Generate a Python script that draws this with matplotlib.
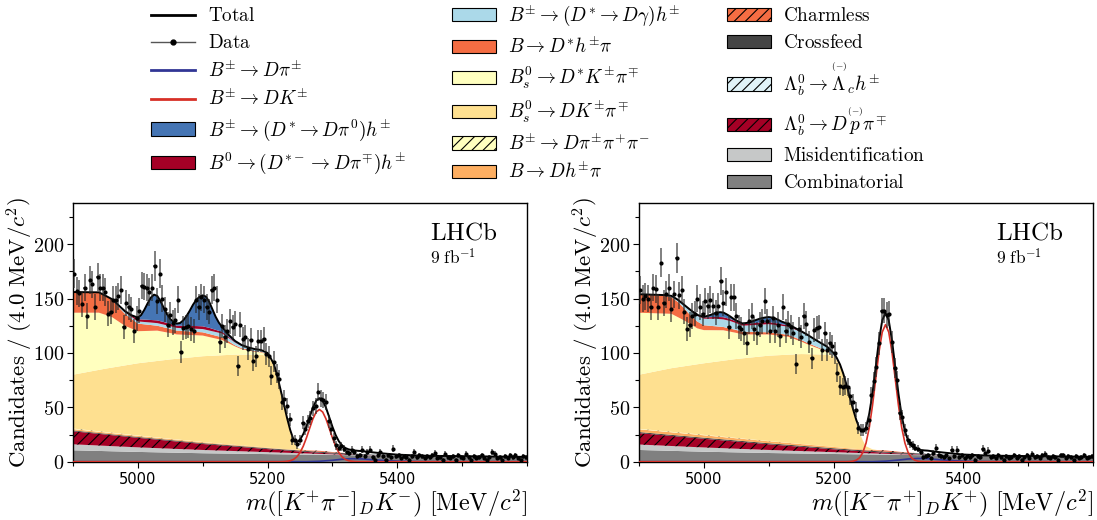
import numpy as np
import matplotlib
matplotlib.use("Agg")
import matplotlib.pyplot as plt
from matplotlib.patches import Patch
from matplotlib.lines import Line2D
from matplotlib.ticker import MultipleLocator, FixedLocator, FuncFormatter

plt.rcParams['mathtext.fontset'] = 'cm'
plt.rcParams['hatch.linewidth'] = 0.8

# ---------------- data (candidates per 4 MeV bin) ----------------
mass_centres = np.arange(4902, 5600, 4)

data_left = [
    173, 157, 155, 145, 160, 134, 167, 163, 142, 170,
    160, 160, 156, 136, 138, 149, 149, 152, 158, 124,
    146, 142, 140, 120, 132, 139, 162, 161, 160, 156,
    160, 180, 148, 173, 150, 140, 126, 135, 128, 130,
    149, 101, 123, 124, 125, 122, 120, 149, 142, 151,
    149, 142, 138, 158, 160, 149, 110, 125, 115, 120,
    129, 124, 127, 88, 126, 113, 115, 104, 112, 93,
    97, 111, 111, 113, 99, 97, 79, 92, 81, 76,
    55, 58, 51, 39, 20, 20, 16, 20, 36, 30,
    37, 40, 49, 51, 64, 58, 57, 55, 37, 30,
    22, 15, 13, 14, 12, 9, 8, 11, 9, 5,
    6, 11, 5, 9, 11, 4, 2, 6, 9, 5,
    2, 6, 4, 12, 5, 6, 3, 5, 4, 2,
    5, 9, 4, 6, 5, 3, 5, 4, 6, 8,
    3, 4, 2, 7, 4, 3, 5, 2, 6, 4,
    3, 7, 4, 2, 5, 3, 4, 6, 3, 2,
    4, 9, 7, 3, 4, 2, 5, 3, 6, 4,
    6, 3, 2, 5, 4]

data_right = [
    158, 150, 152, 150, 142, 160, 159, 142, 183, 146,
    154, 160, 140, 154, 187, 153, 158, 138, 122, 126,
    134, 136, 150, 142, 136, 148, 143, 149, 143, 137,
    143, 166, 146, 156, 124, 151, 151, 134, 124, 122,
    118, 109, 129, 134, 122, 118, 126, 129, 148, 129,
    120, 132, 120, 126, 116, 142, 120, 127, 124, 118,
    90, 122, 115, 134, 127, 110, 95, 121, 123, 124,
    103, 118, 103, 109, 106, 100, 82, 70, 69, 70,
    69, 60, 55, 48, 31, 29, 29, 31, 38, 61,
    74, 87, 109, 139, 139, 135, 136, 110, 86, 75,
    45, 41, 29, 20, 17, 15, 13, 12, 9, 4,
    5, 6, 3, 8, 13, 6, 5, 4, 6, 3,
    11, 5, 11, 4, 6, 3, 5, 4, 6, 2,
    5, 4, 12, 8, 10, 4, 5, 3, 6, 4,
    2, 5, 3, 4, 6, 3, 5, 2, 4, 6,
    3, 7, 4, 5, 3, 6, 7, 4, 3, 5,
    4, 2, 6, 6, 3, 5, 4, 2, 5, 3,
    4, 6, 3, 4, 5]

# ---------------- fit components (knots: mass, height per bin) ----------------
comb_m = [4900, 5000, 5100, 5200, 5300, 5400, 5500, 5600]
comb_left = [10.5, 9.0, 7.8, 7.0, 6.2, 5.4, 4.8, 4.2]
comb_right = [10.8, 9.2, 8.0, 7.1, 6.3, 5.5, 4.9, 4.3]

misid_m = [4900, 5000, 5100, 5200, 5250, 5300, 5350, 5400]
misid_left = [5.5, 4.2, 3.0, 1.8, 1.2, 0.6, 0.2, 0.0]
misid_right = [5.0, 3.9, 2.8, 1.7, 1.1, 0.6, 0.2, 0.0]

lbdp_m = [4900, 5000, 5100, 5200, 5250, 5300, 5350, 5400]
lbdp_left = [12.0, 8.8, 5.5, 2.8, 1.6, 0.7, 0.2, 0.0]
lbdp_right = [10.5, 8.0, 5.2, 2.6, 1.5, 0.7, 0.2, 0.0]

cross_m = [4900, 5100, 5200, 5300, 5350, 5400, 5450]
cross_left = [0.8, 0.8, 0.8, 0.9, 0.7, 0.3, 0.0]
cross_right = [1.0, 1.0, 1.0, 1.0, 0.8, 0.3, 0.0]

charm_m = [5230, 5260, 5280, 5300, 5330]
charm_left = [0.0, 0.5, 0.9, 0.5, 0.0]
charm_right = [0.0, 0.6, 1.1, 0.6, 0.0]

lblc_m = [5300, 5400, 5500, 5600]
lblc_left = [0.0, 0.3, 0.3, 0.2]
lblc_right = [0.0, 0.3, 0.3, 0.2]

dhpi_m = [4900, 5000, 5100, 5200, 5250, 5270]
dhpi_left = [1.2, 1.0, 0.8, 0.5, 0.2, 0.0]
dhpi_right = [2.5, 2.2, 1.8, 1.2, 0.5, 0.0]

d3pi_m = [4900, 5000, 5100, 5200]
d3pi_left = [0.5, 0.4, 0.2, 0.0]
d3pi_right = [0.5, 0.4, 0.2, 0.0]

bsdk_m_left = [4900, 4950, 5000, 5050, 5100, 5150, 5190, 5200, 5205, 5210,
               5215, 5220, 5225, 5230, 5235, 5240, 5245, 5250, 5260]
bsdk_left = [49.5, 58.2, 66.3, 72.9, 78.9, 83.0, 85.1, 84.1, 80.3, 75.6,
             65.8, 54.1, 41.4, 28.6, 16.9, 7.1, 2.4, 1.0, 0.0]
bsdk_m_right = [4900, 4950, 5000, 5050, 5100, 5150, 5190, 5200, 5205, 5210,
                5215, 5220, 5225, 5230, 5235, 5240, 5245, 5250, 5260, 5270]
bsdk_right = [49.7, 58.5, 65.8, 72.6, 78.5, 82.7, 84.4, 82.9, 79.6, 74.9,
              67.1, 57.4, 46.6, 35.9, 25.2, 15.4, 8.2, 3.0, 0.6, 0.0]

bsdsk_m_left = [4900, 4940, 4960, 4980, 5000, 5030, 5060, 5100, 5130, 5150,
                5160, 5180, 5200, 5210, 5220]
bsdsk_left = [57.0, 52.6, 46.5, 36.5, 29.5, 27.9, 22.4, 19.0, 14.0, 7.5,
              5.0, 2.5, 1.5, 0.5, 0.0]
bsdsk_m_right = [4900, 4950, 4970, 4990, 5000, 5030, 5060, 5100, 5130, 5160,
                 5190, 5200, 5210]
bsdsk_right = [57.0, 50.0, 42.0, 33.0, 30.5, 28.0, 22.0, 19.5, 16.5, 9.0,
               2.5, 0.5, 0.0]

dshpi_m = [4900, 4940, 4960, 4980, 5000, 5030, 5060, 5100, 5130, 5150, 5200, 5230]
dshpi_left = [19.0, 18.5, 16.0, 11.0, 7.0, 4.5, 3.5, 3.0, 2.5, 1.0, 0.5, 0.0]
dshpi_right = [17.0, 16.5, 14.0, 8.0, 4.5, 3.0, 2.5, 2.0, 1.8, 1.5, 0.5, 0.0]

dgam_m = [4940, 4960, 4980, 5000, 5020, 5040, 5060, 5080, 5100, 5130, 5150,
          5160, 5190, 5210, 5230]
dgam_left = [0.2, 0.5, 1.5, 2.0, 2.3, 2.5, 2.5, 2.7, 3.0, 3.5, 2.5, 2.0, 1.5, 0.5, 0.0]
dgam_right = [0.5, 2.0, 4.5, 6.0, 7.0, 7.0, 5.5, 6.5, 7.5, 7.5, 7.2, 7.0, 4.0, 1.0, 0.0]

b0_m = [4980, 5000, 5030, 5060, 5090, 5110, 5130, 5150, 5170]
b0_left = [1.0, 2.0, 2.5, 2.0, 2.5, 2.5, 1.5, 0.5, 0.0]
b0_right = [0.5, 1.2, 2.0, 1.5, 2.0, 1.8, 1.2, 0.5, 0.0]

dpi0_m = [4990, 5000, 5005, 5010, 5015, 5020, 5025, 5030, 5035, 5040, 5045,
          5050, 5055, 5060, 5065, 5070, 5075, 5080, 5085, 5090, 5095, 5100,
          5105, 5110, 5115, 5120, 5125, 5130, 5140, 5150, 5170, 5200]
dpi0_left = [0.0, 1.5, 4.0, 9.0, 15.0, 20.5, 23.5, 22.5, 18.5, 13.0, 8.0,
             4.5, 2.5, 2.0, 2.5, 5.0, 9.0, 14.0, 19.5, 24.0, 27.0, 28.5,
             28.0, 24.0, 18.0, 12.0, 7.5, 4.5, 2.0, 1.0, 0.3, 0.0]
dpi0_right = [0.0, 0.5, 1.2, 2.0, 3.0, 4.0, 4.5, 4.3, 3.5, 2.5, 1.5,
              0.8, 0.6, 0.5, 0.7, 1.0, 1.8, 2.6, 3.4, 4.0, 4.4, 4.6,
              4.6, 4.2, 3.3, 2.4, 1.8, 1.3, 0.6, 0.3, 0.1, 0.0]

sig_m = [5225, 5230, 5235, 5240, 5245, 5250, 5255, 5260, 5265, 5270, 5275, 5280,
         5285, 5290, 5295, 5300, 5305, 5310, 5315, 5320, 5325, 5330, 5335, 5340]
sig_left = [0.1, 0.4, 0.9, 2.1, 4.4, 8.3, 14.2, 22.0, 30.9, 39.5, 45.7, 48.0,
            45.7, 39.5, 30.9, 22.0, 14.2, 8.3, 4.4, 2.1, 0.9, 0.4, 0.1, 0.0]
sig_right = [0.15, 0.5, 1.4, 3.6, 8.3, 17.1, 31.4, 51.8, 76.4, 100.9, 119.2, 126.0,
             119.2, 100.9, 76.4, 51.8, 31.4, 17.1, 8.3, 3.6, 1.4, 0.5, 0.15, 0.0]

dpi_m = [5260, 5280, 5300, 5315, 5330, 5345, 5360, 5380, 5400, 5430, 5460]
dpi_left = [0.0, 0.4, 1.3, 2.3, 2.8, 2.6, 1.9, 1.1, 0.5, 0.1, 0.0]
dpi_right = [0.0, 0.5, 1.5, 2.5, 3.0, 2.8, 2.0, 1.2, 0.5, 0.1, 0.0]

x_ticks = [5000, 5200, 5400]

# ---------------- styles ----------------
labels = {
    'total': r'$\mathrm{Total}$',
    'data': r'$\mathrm{Data}$',
    'dpi': r'$B^{\pm}\to D\pi^{\pm}$',
    'dk': r'$B^{\pm}\to DK^{\pm}$',
    'dpi0': r'$B^{\pm}\to (D^{*}\to D\pi^{0})h^{\pm}$',
    'b0': r'$B^{0}\to (D^{*-}\to D\pi^{\mp})h^{\pm}$',
    'dgam': r'$B^{\pm}\to (D^{*}\to D\gamma)h^{\pm}$',
    'dshpi': r'$B\to D^{*}h^{\pm}\pi$',
    'bsdsk': r'$B_{s}^{0}\to D^{*}K^{\pm}\pi^{\mp}$',
    'bsdk': r'$B_{s}^{0}\to DK^{\pm}\pi^{\mp}$',
    'd3pi': r'$B^{\pm}\to D\pi^{\pm}\pi^{+}\pi^{-}$',
    'dhpi': r'$B\to Dh^{\pm}\pi$',
    'charm': r'$\mathrm{Charmless}$',
    'cross': r'$\mathrm{Crossfeed}$',
    'lblc': r'$\Lambda_{b}^{0}\to \overset{_{(-)}}{\Lambda}_{c}h^{\pm}$',
    'lbdp': r'$\Lambda_{b}^{0}\to D\overset{_{(-)}}{p}\pi^{\mp}$',
    'misid': r'$\mathrm{Misidentification}$',
    'comb': r'$\mathrm{Combinatorial}$',
}
colors = {
    'dpi0': '#4575b4', 'b0': '#a50026', 'dgam': '#abd9e9', 'dshpi': '#f46d43',
    'bsdsk': '#ffffbf', 'bsdk': '#fee090', 'd3pi': '#ffffbf', 'dhpi': '#fdae61',
    'charm': '#f46d43', 'cross': '#454545', 'lblc': '#e0f3f8', 'lbdp': '#a50026',
    'misid': '#c6c8c8', 'comb': '#808080',
}
hatches = {'d3pi': '///', 'charm': '///', 'lblc': '///', 'lbdp': '///'}

stack_order = ['comb', 'misid', 'lbdp', 'cross', 'charm', 'lblc', 'dhpi',
               'd3pi', 'bsdk', 'bsdsk', 'dshpi', 'dgam', 'b0', 'dpi0']

left_comps = {
    'comb': (comb_m, comb_left), 'misid': (misid_m, misid_left),
    'lbdp': (lbdp_m, lbdp_left), 'cross': (cross_m, cross_left),
    'charm': (charm_m, charm_left), 'lblc': (lblc_m, lblc_left),
    'dhpi': (dhpi_m, dhpi_left), 'd3pi': (d3pi_m, d3pi_left),
    'bsdk': (bsdk_m_left, bsdk_left), 'bsdsk': (bsdsk_m_left, bsdsk_left),
    'dshpi': (dshpi_m, dshpi_left), 'dgam': (dgam_m, dgam_left),
    'b0': (b0_m, b0_left), 'dpi0': (dpi0_m, dpi0_left),
}
right_comps = {
    'comb': (comb_m, comb_right), 'misid': (misid_m, misid_right),
    'lbdp': (lbdp_m, lbdp_right), 'cross': (cross_m, cross_right),
    'charm': (charm_m, charm_right), 'lblc': (lblc_m, lblc_right),
    'dhpi': (dhpi_m, dhpi_right), 'd3pi': (d3pi_m, d3pi_right),
    'bsdk': (bsdk_m_right, bsdk_right), 'bsdsk': (bsdsk_m_right, bsdsk_right),
    'dshpi': (dshpi_m, dshpi_right), 'dgam': (dgam_m, dgam_right),
    'b0': (b0_m, b0_right), 'dpi0': (dpi0_m, dpi0_right),
}

fig = plt.figure(figsize=(10.97, 5.20), dpi=100)
ax_l = fig.add_axes([0.0665, 0.1121, 0.4139, 0.4969])
ax_r = fig.add_axes([0.5825, 0.1121, 0.4139, 0.4969])


def draw_panel(ax, comps, sig, dpi, data, xlabel):
    knots = [4900.0, 5600.0]
    for m, _ in comps.values():
        knots += list(m)
    knots += list(sig[0]) + list(dpi[0])
    grid = np.union1d(knots, [])
    base = np.zeros_like(grid)
    for key in stack_order:
        m, v = comps[key]
        h = np.interp(grid, m, v, left=0.0, right=0.0)
        ax.fill_between(grid, base, base + h, facecolor=colors[key],
                        edgecolor='black' if key in hatches else 'none',
                        hatch=hatches.get(key), linewidth=0, zorder=2)
        base = base + h
    s = np.interp(grid, sig[0], sig[1], left=0.0, right=0.0)
    p = np.interp(grid, dpi[0], dpi[1], left=0.0, right=0.0)
    total = base + s + p
    ax.plot(grid, p, color='#313695', lw=1.2, zorder=3)
    ax.plot(grid, s, color='#d73027', lw=1.2, zorder=3)
    ax.plot(grid, total, color='black', lw=1.4, zorder=4)
    d = np.asarray(data, dtype=float)
    ax.errorbar(mass_centres, d, yerr=np.sqrt(d), xerr=2, fmt='o', ms=2.0,
                mfc='black', mec='black', ecolor=(0.15, 0.15, 0.15, 0.75),
                elinewidth=1.1, capsize=0, zorder=5)
    ax.set_xlim(4900, 5600)
    ax.set_ylim(0, 237.6)
    ax.xaxis.set_major_locator(FixedLocator(x_ticks))
    ax.xaxis.set_minor_locator(MultipleLocator(100))
    ax.yaxis.set_major_locator(MultipleLocator(50))
    ax.yaxis.set_minor_locator(MultipleLocator(25))
    ax.yaxis.set_major_formatter(FuncFormatter(lambda v, pos: r'$%d$' % int(round(v))))
    ax.tick_params(axis='both', which='major', length=4, width=0.8, direction='out')
    ax.tick_params(axis='both', which='minor', length=3, width=0.8, direction='out')
    ax.tick_params(axis='x', labelsize=10.5, pad=3.5)
    ax.tick_params(axis='y', labelsize=14.5, pad=2)
    for sp in ax.spines.values():
        sp.set_linewidth(1.0)
    ax.set_ylabel(r'$\mathrm{Candidates\ /\ (4.0\ MeV/}c^{2}\mathrm{)}$', fontsize=16.5, labelpad=-1)
    ax.set_xlabel(xlabel, fontsize=17.5, loc='right')
    ax.xaxis.set_label_coords(1.0, -0.1)
    ax.text(0.786, 0.86, r'$\mathrm{LHCb}$', transform=ax.transAxes, fontsize=18)
    ax.text(0.786, 0.765, r'$9\ \mathrm{fb}^{-1}$', transform=ax.transAxes, fontsize=12.5)


draw_panel(ax_l, left_comps, (sig_m, sig_left), (dpi_m, dpi_left), data_left,
           r'$m([K^{+}\pi^{-}]_{D}K^{-})\ \mathrm{[MeV/}c^{2}\mathrm{]}$')
draw_panel(ax_r, right_comps, (sig_m, sig_right), (dpi_m, dpi_right), data_right,
           r'$m([K^{-}\pi^{+}]_{D}K^{+})\ \mathrm{[MeV/}c^{2}\mathrm{]}$')

# ---------------- legend ----------------
handles = [
    Line2D([], [], color='black', lw=2),
    Line2D([], [], color='#555555', lw=1, marker='o', ms=3.5, mfc='black', mec='black'),
    Line2D([], [], color='#313695', lw=2),
    Line2D([], [], color='#d73027', lw=2),
]
leg_keys = ['total', 'data', 'dpi', 'dk']
for key in ['dpi0', 'b0', 'dgam', 'dshpi', 'bsdsk', 'bsdk', 'd3pi', 'dhpi',
            'charm', 'cross', 'lblc', 'lbdp', 'misid', 'comb']:
    handles.append(Patch(facecolor=colors[key], edgecolor='black', linewidth=0.8,
                         hatch=hatches.get(key)))
    leg_keys.append(key)

fig.legend(handles, [labels[k] for k in leg_keys], ncol=3, loc='upper left',
           bbox_to_anchor=(0.124, 1.022), frameon=False, fontsize=13.8,
           handlelength=2.3, handleheight=0.7, handletextpad=0.65,
           columnspacing=2.4, labelspacing=0.42, borderpad=0.3)

fig.savefig('out.png', dpi=100)
